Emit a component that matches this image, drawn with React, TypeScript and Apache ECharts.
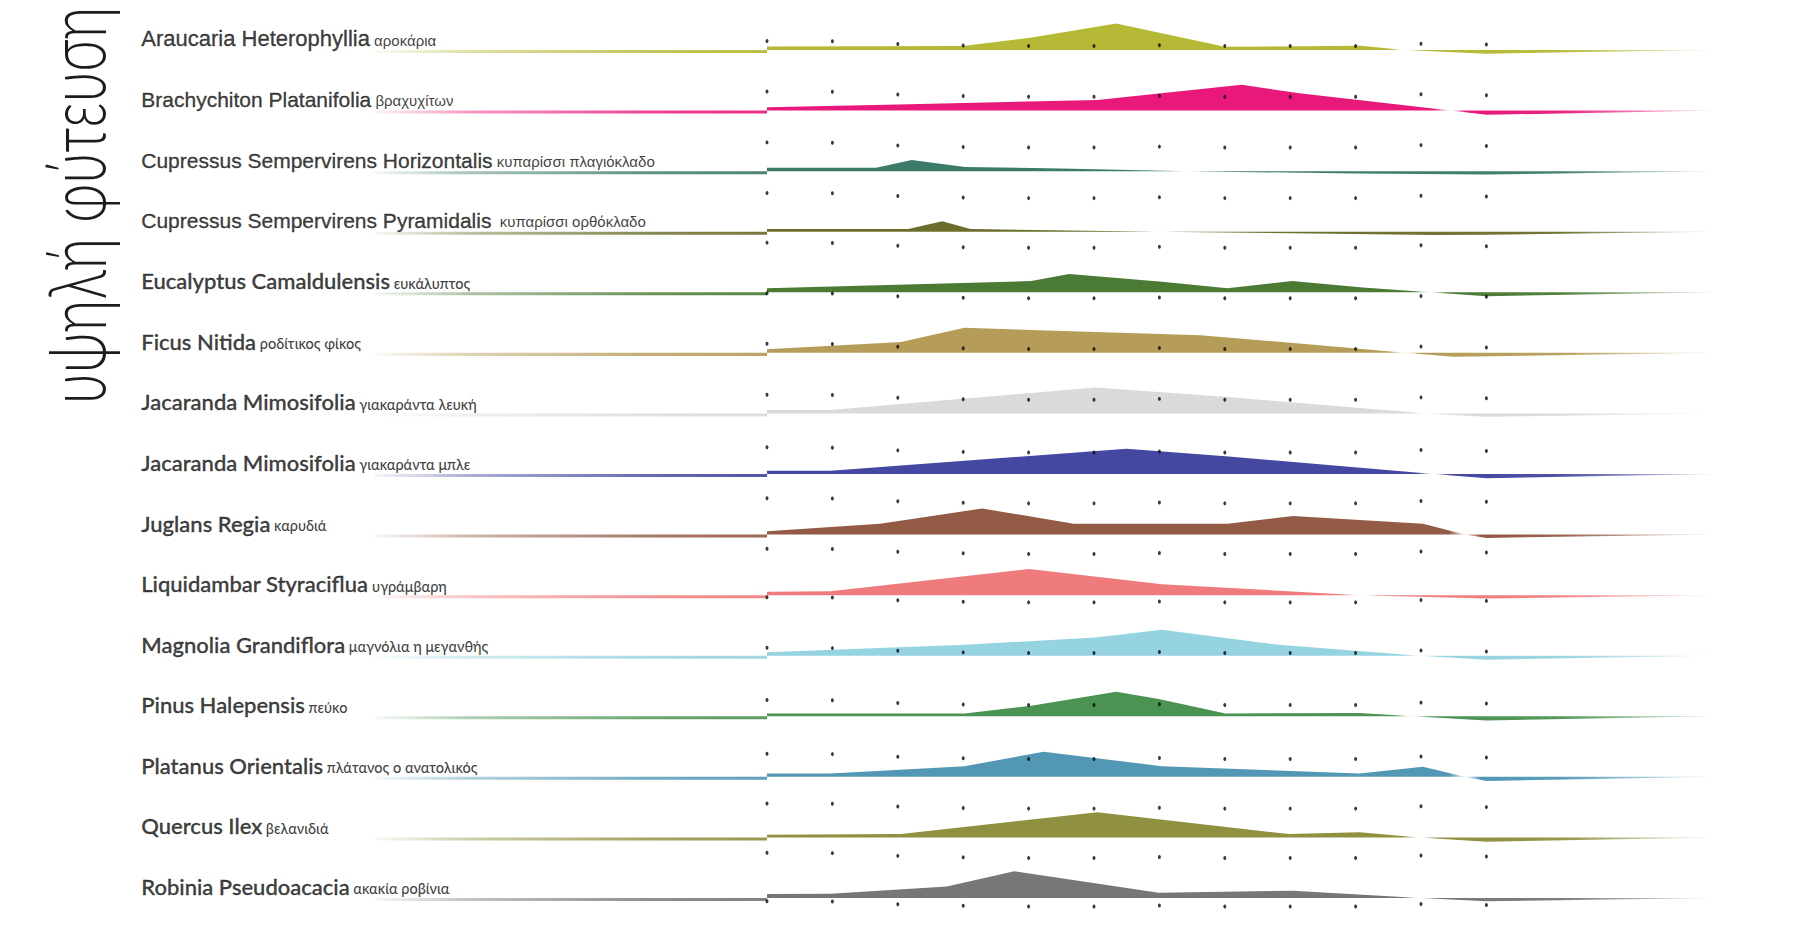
import React, { useEffect, useRef } from "react";
import * as echarts from "echarts";

// ---------- data ----------
const titleText = "υψηλή φύτευση";

const speciesLatin = [
  "Araucaria Heterophyllia",
  "Brachychiton Platanifolia",
  "Cupressus Sempervirens Horizontalis",
  "Cupressus Sempervirens Pyramidalis",
  "Eucalyptus Camaldulensis",
  "Ficus Nitida",
  "Jacaranda Mimosifolia",
  "Jacaranda Mimosifolia",
  "Juglans Regia",
  "Liquidambar Styraciflua",
  "Magnolia Grandiflora",
  "Pinus Halepensis",
  "Platanus Orientalis",
  "Quercus Ilex",
  "Robinia Pseudoacacia",
];

const speciesGreek = [
  "αροκάρια",
  "βραχυχίτων",
  "κυπαρίσσι πλαγιόκλαδο",
  "κυπαρίσσι ορθόκλαδο",
  "ευκάλυπτος",
  "ροδίτικος φίκος",
  "γιακαράντα λευκή",
  "γιακαράντα μπλε",
  "καρυδιά",
  "υγράμβαρη",
  "μαγνόλια η μεγανθής",
  "πεύκο",
  "πλάτανος ο ανατολικός",
  "βελανιδιά",
  "ακακία ροβίνια",
];

// profiles: [month position, value] (months 1..12, value relative to row baseline)
const araucaria = [[1, 1.2], [4.0, 1.3], [5.05, 4.1], [6.34, 8.8], [8.0, 1.1], [10.08, 1.4], [10.75, 0], [12, -1.2]];
const brachychiton = [[1, 1.1], [3, 2.0], [6.05, 3.5], [8.26, 8.5], [9.14, 5.7], [11.45, 0], [12, -1.4]];
const cupressusHor = [[1, 1.1], [2.67, 1.1], [3.21, 3.7], [4.03, 1.4], [5.5, 0.9], [7.42, 0], [10, -0.8], [12, -1.1]];
const cupressusPyr = [[1, 0.9], [3.16, 0.9], [3.68, 3.5], [4.11, 0.9], [7.0, 0], [11.2, -1.1], [12, -1.0]];
const eucalyptus = [[1, 1.3], [5.04, 3.7], [5.62, 6.0], [7.04, 3.5], [8.04, 1.3], [9.03, 3.7], [10.11, 1.6], [11.14, 0], [12, -1.3]];
const ficus = [[1, 1.2], [3.05, 3.6], [4.02, 8.3], [6.02, 6.9], [7.63, 5.8], [9.14, 3.1], [10.75, 0], [11.5, -1.3]];
const jacarandaWhite = [[1, 1.1], [1.97, 1.1], [6.02, 8.6], [8, 5.5], [11.08, 0], [12, -1.1]];
const jacarandaBlue = [[1, 1.1], [1.97, 1.1], [4.02, 4.4], [6.5, 8.3], [8.06, 5.8], [11.19, 0], [12, -1.4]];
const juglans = [[1, 1.1], [2.73, 3.6], [4.29, 8.6], [5.69, 3.6], [8.04, 3.6], [9.04, 6.1], [11.03, 3.6], [11.67, 0], [12, -1.1]];
const liquidambar = [[1, 1.1], [1.97, 1.3], [5.01, 8.6], [7.04, 3.6], [10.06, 0], [12, -1.1]];
const magnolia = [[1, 1.1], [4.02, 3.6], [6.02, 6.0], [7.04, 8.6], [8.82, 3.6], [10.98, 0], [12, -1.3]];
const pinus = [[1, 0.9], [4.02, 0.9], [5.04, 3.5], [6.34, 8.1], [6.99, 5.7], [8.01, 0.9], [10.06, 1.1], [10.87, 0], [12, -1.4]];
const platanus = [[1, 1.1], [1.97, 1.1], [4.02, 3.5], [5.23, 8.3], [7.04, 3.5], [10.06, 1.1], [11.03, 3.3], [11.67, 0], [12, -1.4]];
const quercus = [[1, 0.9], [3.05, 1.1], [6.05, 8.3], [8.98, 1.1], [10.06, 1.7], [10.98, 0], [12, -1.4]];
const robinia = [[1, 1.3], [1.97, 1.4], [3.75, 3.8], [4.78, 8.8], [6.99, 1.7], [9.04, 2.4], [10.98, 0], [12, -1.1]];

const profiles = [
  araucaria, brachychiton, cupressusHor, cupressusPyr, eucalyptus, ficus,
  jacarandaWhite, jacarandaBlue, juglans, liquidambar, magnolia, pinus,
  platanus, quercus, robinia,
];

const monthTicks = [1, 2, 3, 4, 5, 6, 7, 8, 9, 10, 11, 12];
const dotRowLevels = [286.3, 269.6, 252.8, 236.1, 219.7, 203.0, 186.3, 169.5, 152.1, 135.3, 118.6, 102.6, 85.9, 68.7, 50.9, 34.5, 18.2, 2.2];
const dotColumnShift = [1.7, 1.6, 0.7, 0.2, 0, 0, 0.3, 0, 0, 0, 0.8, 0.5];

// ---------- styling / layout ----------
const palette = [
  "#b5b935", "#e8197a", "#3b7a68", "#6b6e2a", "#4a7a34", "#b59c58",
  "#dadada", "#4548a0", "#935a45", "#ef7b7c", "#96d3e0", "#4a9352",
  "#5298b5", "#8f9040", "#777777",
];

const W = 1806;
const H = 936;
const X_MIN = -9;
const X_MAX = 16;
const GRID_LEFT = 113;
const GRID_RIGHT = 58;
const PX_PER_MONTH = (W - GRID_LEFT - GRID_RIGHT) / (X_MAX - X_MIN);
const ROW_STEP = 20;
const ROW_OFFSET = 5;
const STEM_START = -5;
const STEM_DEPTH = -1.0;
const TAIL_END = 15.5;
const LABEL_X = -8.56;
const TEXT_COLOR = "#0c0c0c";

const monthToPx = (m: number) => GRID_LEFT + (m - X_MIN) * PX_PER_MONTH;

function hexToRgba(hex: string, a: number) {
  const r = parseInt(hex.slice(1, 3), 16);
  const g = parseInt(hex.slice(3, 5), 16);
  const b = parseInt(hex.slice(5, 7), 16);
  return `rgba(${r},${g},${b},${a})`;
}

function buildOption() {
  const n = profiles.length;
  const base = (i: number) => (n - 1 - i) * ROW_STEP + ROW_OFFSET;
  const gx0 = monthToPx(STEM_START);
  const gx1 = monthToPx(TAIL_END) + 5;
  const off = (px: number) => Math.min(1, Math.max(0, (px - gx0) / (gx1 - gx0)));

  const series: any[] = profiles.map((prof, i) => {
    const b = base(i);
    const color = palette[i];
    const twist = prof.find((p, k) => k > 0 && p[1] === 0);
    const tPx = twist ? monthToPx(twist[0]) : monthToPx(11);
    const m1 = monthToPx(1);
    const stops = [
      { offset: 0, color: hexToRgba(color, 0.05) },
      { offset: off(470), color: hexToRgba(color, 0.45) },
      { offset: off(650), color: hexToRgba(color, 0.82) },
      { offset: off(m1 - 1), color: hexToRgba(color, 0.92) },
      { offset: off(m1), color: hexToRgba(color, 1) },
      { offset: off(tPx - 16), color: hexToRgba(color, 1) },
      { offset: off(tPx), color: hexToRgba(color, 0.2) },
      { offset: off(tPx + 16), color: hexToRgba(color, 1) },
      { offset: off(1560), color: hexToRgba(color, 0.95) },
      { offset: 1, color: hexToRgba(color, 0.2) },
    ].sort((a, c) => a.offset - c.offset);
    const data = [
      [STEM_START, b + STEM_DEPTH],
      [1, b + STEM_DEPTH],
      ...prof.map(([x, v]) => [x, b + v]),
      [TAIL_END, b],
    ];
    return {
      type: "line",
      name: speciesLatin[i] + " " + speciesGreek[i],
      data,
      symbol: "none",
      silent: true,
      clip: false,
      z: 2,
      lineStyle: { width: 0 },
      areaStyle: {
        origin: b,
        opacity: 1,
        color: new echarts.graphic.LinearGradient(gx0, 0, gx1, 0, stops, true),
      },
    };
  });

  const dots: number[][] = [];
  dotRowLevels.forEach((r) => {
    monthTicks.forEach((m, c) => dots.push([m, r + dotColumnShift[c]]));
  });
  series.push({
    type: "scatter",
    data: dots,
    symbol: "circle",
    symbolSize: [3, 4],
    itemStyle: { color: "#0a0a0a" },
    silent: true,
    z: 5,
  });

  const strong = { textBorderColor: TEXT_COLOR, textBorderWidth: 0.35 };
  series.push({
    type: "scatter",
    data: speciesLatin.map((_, i) => [LABEL_X, base(i)]),
    symbolSize: 1,
    itemStyle: { color: "rgba(0,0,0,0)" },
    silent: true,
    z: 6,
    label: {
      show: true,
      position: [0, 0],
      align: "left",
      verticalAlign: "bottom",
      formatter: (p: any) => {
        const i = p.dataIndex;
        const k = i === 0 ? "0" : i < 4 ? "1" : "2";
        const gap = i === 3 ? "  " : " ";
        return `{a${k}|${speciesLatin[i]}}{b${k}|${gap}${speciesGreek[i]}}`;
      },
      rich: {
        a0: { fontFamily: "Liberation Sans", fontSize: 22, color: TEXT_COLOR, lineHeight: 22, verticalAlign: "bottom", ...strong },
        b0: { fontFamily: "Liberation Sans", fontSize: 15, color: TEXT_COLOR, lineHeight: 15, verticalAlign: "bottom", padding: [0, 0, 2, 0] },
        a1: { fontFamily: "Liberation Sans", fontSize: 21, color: TEXT_COLOR, lineHeight: 21, verticalAlign: "bottom", ...strong },
        b1: { fontFamily: "Liberation Sans", fontSize: 15, color: TEXT_COLOR, lineHeight: 15, verticalAlign: "bottom", padding: [0, 0, 2, 0] },
        a2: { fontFamily: "Lato", fontSize: 22, fontWeight: 500, color: TEXT_COLOR, lineHeight: 22, verticalAlign: "bottom", ...strong },
        b2: { fontFamily: "Lato", fontSize: 14.5, fontWeight: 500, color: TEXT_COLOR, lineHeight: 14.5, verticalAlign: "bottom", padding: [0, 0, 1, 0] },
      },
    },
  });

  return {
    animation: false,
    backgroundColor: "#ffffff",
    grid: { left: GRID_LEFT, right: GRID_RIGHT, top: 4.6, bottom: 22.9 },
    xAxis: { type: "value", min: X_MIN, max: X_MAX, show: false, splitLine: { show: false } },
    yAxis: { type: "value", min: 0, max: 300, show: false, splitLine: { show: false } },
    graphic: [
      {
        type: "text",
        x: 115,
        y: 404,
        rotation: Math.PI / 2,
        scaleX: 0.91,
        scaleY: 1.3,
        style: {
          text: titleText,
          fontFamily: "Lato",
          fontWeight: 300,
          fontSize: 62,
          fill: "#1c1c1c",
          align: "left",
          verticalAlign: "bottom",
          textAlign: "left",
          textVerticalAlign: "bottom",
        },
      },
    ],
    series,
  };
}

export default function App() {
  const ref = useRef<HTMLDivElement>(null);
  useEffect(() => {
    if (!ref.current) return;
    const chart = echarts.init(ref.current, null, { renderer: "svg" });
    chart.setOption(buildOption() as any);
    return () => chart.dispose();
  }, []);
  return (
    <div
      ref={ref}
      style={{ position: "absolute", left: 0, top: 0, width: W, height: H, background: "#fff" }}
    />
  );
}
